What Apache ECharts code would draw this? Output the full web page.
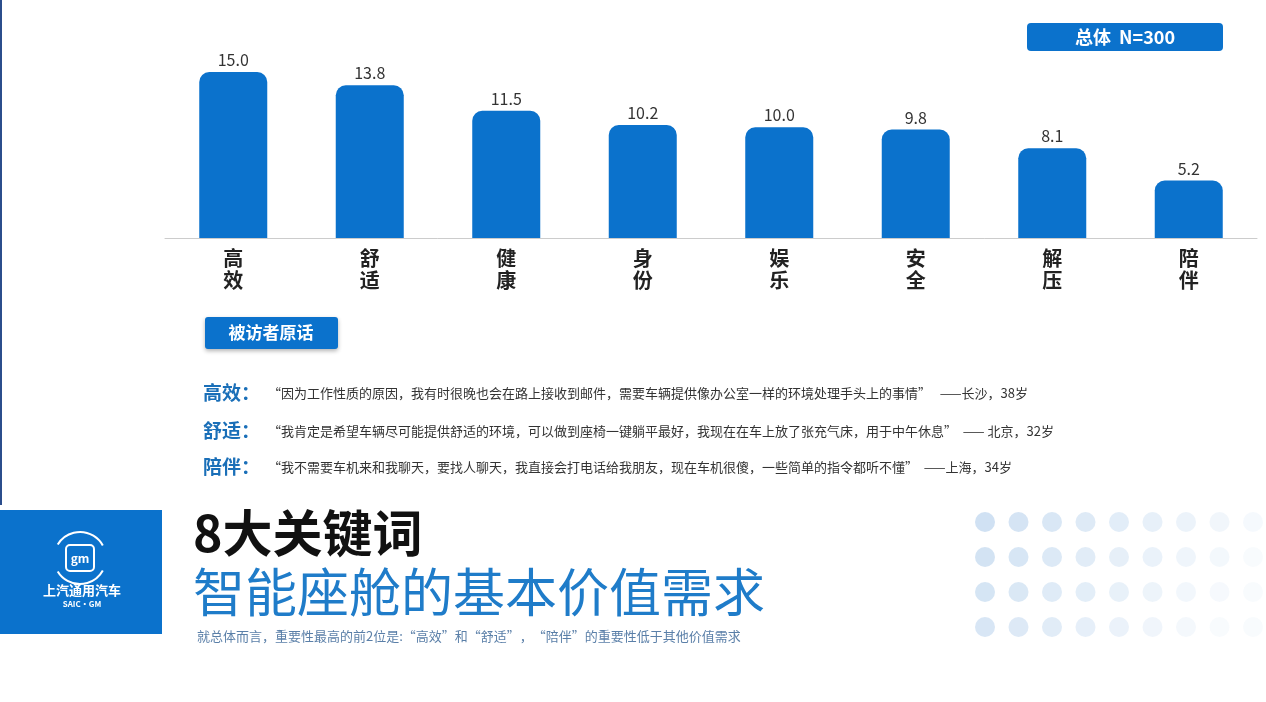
<!DOCTYPE html>
<html><head><meta charset="utf-8">
<script src="https://cdn.jsdelivr.net/npm/echarts@6/dist/echarts.min.js"></script>
<style>html,body{margin:0;padding:0;background:#fff}#c{width:1266px;height:702px}</style>
</head><body><div id="c"></div>
<script>
const categories = ['高效','舒适','健康','身份','娱乐','安全','解压','陪伴'];
const values = [15.0, 13.8, 11.5, 10.2, 10.0, 9.8, 8.1, 5.2];
const quotes = [
  ['高效：', '“因为工作性质的原因，我有时很晚也会在路上接收到邮件，需要车辆提供像办公室一样的环境处理手头上的事情”   ——长沙，38岁'],
  ['舒适：', '“我肯定是希望车辆尽可能提供舒适的环境，可以做到座椅一键躺平最好，我现在在车上放了张充气床，用于中午休息”  —— 北京，32岁'],
  ['陪伴：', '“我不需要车机来和我聊天，要找人聊天，我直接会打电话给我朋友，现在车机很傻，一些简单的指令都听不懂”  ——上海，34岁']
];
const F = '"Noto Sans CJK SC", "Noto Sans", sans-serif';
const BLUE = '#0b72cc';
const chart = echarts.init(document.getElementById('c'));
const g = [];
g.push({type:'rect', shape:{x:0,y:0,width:2,height:505}, style:{fill:'#2b4d8c'}});
g.push({type:'rect', shape:{x:1027,y:23,width:196,height:28,r:4}, style:{fill:BLUE}});
g.push({type:'text', x:1125, y:37, style:{text:'总体  N=300', fill:'#fff', font:'bold 18px '+F, align:'center', verticalAlign:'middle'}});
g.push({type:'rect', shape:{x:205,y:317,width:133,height:32,r:3}, style:{fill:BLUE, shadowBlur:4, shadowColor:'rgba(0,0,0,0.3)', shadowOffsetY:2}});
g.push({type:'text', x:271, y:333, style:{text:'被访者原话', fill:'#fff', font:'bold 17px '+F, align:'center', verticalAlign:'middle'}});
const qy = [393, 431, 467];
quotes.forEach((q,i)=>{
  g.push({type:'text', x:203, y:qy[i], style:{text:q[0], fill:'#1a6fb8', font:'bold 19px '+F, verticalAlign:'middle'}});
  g.push({type:'text', x:268, y:qy[i], style:{text:q[1], fill:'#333', font:'13px '+F, verticalAlign:'middle'}});
});
g.push({type:'rect', shape:{x:0,y:510,width:162,height:124}, style:{fill:BLUE}});
g.push({type:'rect', shape:{x:66,y:545,width:28,height:26,r:4}, style:{fill:'none', stroke:'#fff', lineWidth:2}});
g.push({type:'text', x:80, y:558, style:{text:'gm', fill:'#fff', font:'bold 12px '+F, align:'center', verticalAlign:'middle'}});
g.push({type:'arc', shape:{cx:80,cy:558,r:26,startAngle:-2.6,endAngle:-0.5}, style:{stroke:'#fff', lineWidth:2, fill:'none'}});
g.push({type:'arc', shape:{cx:80,cy:558,r:26,startAngle:0.5,endAngle:2.6}, style:{stroke:'#fff', lineWidth:2, fill:'none'}});
g.push({type:'text', x:82, y:590, style:{text:'上汽通用汽车', fill:'#fff', font:'bold 13px '+F, align:'center', verticalAlign:'middle'}});
g.push({type:'text', x:82, y:604, style:{text:'SAIC·GM', fill:'#fff', font:'bold 8px '+F, align:'center', verticalAlign:'middle'}});
g.push({type:'text', x:193, y:533, style:{text:'8大关键词', fill:'#111', font:'bold 50px '+F, verticalAlign:'middle'}});
g.push({type:'text', x:193, y:592, style:{text:'智能座舱的基本价值需求', fill:'#1f7cc9', font:'52px '+F, verticalAlign:'middle'}});
g.push({type:'text', x:197, y:636, style:{text:'就总体而言，重要性最高的前2位是:“高效”和“舒适”，“陪伴”的重要性低于其他价值需求', fill:'#5a7fa8', font:'13px '+F, verticalAlign:'middle'}});
for (let r=0;r<4;r++) for (let c=0;c<9;c++){
  const op = Math.max(0.05, 0.35 - c*0.035 - r*0.02);
  g.push({type:'circle', shape:{cx:985+c*33.5, cy:522+r*35, r:10}, style:{fill:'rgba(120,170,220,'+op+')'}});
}
chart.setOption({
  animation:false,
  grid:{left:165, right:9, top:72, bottom:464},
  xAxis:{type:'category', data:categories,
    axisLine:{lineStyle:{color:'#ccc'}}, axisTick:{show:false},
    axisLabel:{formatter:v=>v.split('').join('\n'), color:'#222', fontFamily:F, fontSize:20, fontWeight:'bold', lineHeight:22, margin:9}},
  yAxis:{type:'value', min:0, max:15, show:false},
  series:[{type:'bar', data:values, barWidth:68,
    itemStyle:{color:BLUE, borderRadius:[10,10,0,0]},
    label:{show:true, position:'top', formatter:p=>p.value.toFixed(1), color:'#333', fontSize:16, fontFamily:F, distance:4}}],
  graphic:g
});
</script></body></html>
